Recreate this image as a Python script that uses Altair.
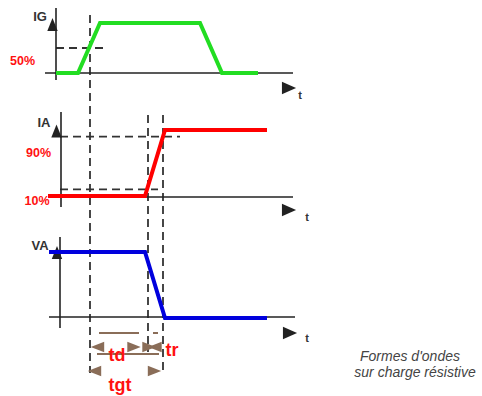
import altair as alt
import pandas as pd

W, H = 482, 396

# ---- waveforms: time points and normalised levels (0 = off, 1 = full) ----
ig_time = [56, 78, 100, 200, 222, 258]
ig_level = [0, 0, 1, 1, 0, 0]
ia_time = [48, 145, 165, 267]
ia_level = [0, 0, 1, 1]
va_time = [49, 145, 165, 267]
va_level = [1, 1, 0, 0]

# panel baselines and amplitudes on the drawing
panel_base = {"IG": 73, "IA": 196, "VA": 318}
panel_amp = {"IG": 50, "IA": 66, "VA": 66}

# instants marked by the dashed verticals: gate 50 %, anode 10 %, anode 90 %
t_gate50 = 90
t_ia10 = 148
t_ia90 = 163

# arrowhead outlines (unit square, scaled by the mark size)
ARROW_UP = "M0,-1 L0.8,1 L-0.8,1 Z"
ARROW_RIGHT = "M-1,-0.9 L1,0 L-1,0.9 Z"
ARROW_LEFT = "M1,-0.8 L-1,0 L1,0.8 Z"
ARROW_RIGHT_S = "M-1,-0.8 L1,0 L-1,0.8 Z"


def level_y(panel, v):
    return panel_base[panel] - v * panel_amp[panel]


def wave_df(panel, times, levels):
    return pd.DataFrame({
        "x": times,
        "y": [level_y(panel, v) for v in levels],
        "i": list(range(len(times))),
    })


X = alt.Scale(domain=[0, W], nice=False, zero=False)
Y = alt.Scale(domain=[0, H], nice=False, zero=False, reverse=True)


def xe(f="x"):
    return alt.X(f"{f}:Q", scale=X, axis=None)


def ye(f="y"):
    return alt.Y(f"{f}:Q", scale=Y, axis=None)


def segs(rows, **mark):
    df = pd.DataFrame(rows, columns=["x", "y", "x2", "y2"])
    return alt.Chart(df).mark_rule(**mark).encode(
        x=xe(), y=ye(), x2="x2:Q", y2="y2:Q")


def wave(panel, times, levels, color):
    return alt.Chart(wave_df(panel, times, levels)).mark_line(
        color=color, strokeWidth=4, strokeCap="butt", strokeJoin="miter"
    ).encode(x=xe(), y=ye(), order="i:Q")


def tri(rows, shape, size, color):
    df = pd.DataFrame(rows, columns=["x", "y"])
    return alt.Chart(df).mark_point(
        shape=shape, filled=True, size=size, color=color, opacity=1, strokeWidth=0
    ).encode(x=xe(), y=ye())


def text(rows, color, size, bold=True, italic=False, font="Liberation Sans"):
    df = pd.DataFrame(rows, columns=["x", "y", "label"])
    kw = dict(color=color, fontSize=size, font=font, align="center",
              baseline="middle")
    if bold:
        kw["fontWeight"] = "bold"
    if italic:
        kw["fontStyle"] = "italic"
    return alt.Chart(df).mark_text(**kw).encode(x=xe(), y=ye(), text="label:N")


AX = "#222222"
DASH = "#333333"
BROWN = "#8a6d58"
RED = "#ff1111"

# axes of the three panels
axes = segs([
    (56, 8, 56, 80), (45, 73, 293, 73),
    (61, 112, 61, 207), (48, 197, 293, 197),
    (60, 237, 60, 328), (49, 317, 295, 317),
], color=AX, strokeWidth=1.6)

# dashed reference lines
dashed = segs([
    (t_gate50, 15, t_gate50, 373),
    (t_ia10, 115, t_ia10, 352),
    (t_ia90, 115, t_ia90, 373),
    (56, level_y("IG", 0.5), 103, level_y("IG", 0.5)),
    (60, level_y("IA", 0.9), 180, level_y("IA", 0.9)),
    (60, level_y("IA", 0.1), 158, level_y("IA", 0.1)),
], color=DASH, strokeWidth=1.8, strokeDash=[8, 5])

up_arrows = tri([(52.5, 24.5), (56.5, 131), (57, 252.5)], ARROW_UP, 170, AX)
t_arrows = tri([(289, 88), (289, 210), (290, 333)], ARROW_RIGHT, 200, AX)

# td / tr / tgt dimension marks
dim_lines = segs([
    (99, 333, 139, 333), (153, 333, 158, 333), (97, 354, 159, 354),
], color=BROWN, strokeWidth=2)
dim_left = tri([(97.5, 347), (155, 347), (94.5, 371)], ARROW_LEFT, 180, BROWN)
dim_right = tri([(134, 347), (149, 347), (154.5, 371)], ARROW_RIGHT_S, 180, BROWN)

names = text([(40, 17, "IG"), (44, 123, "IA"), (40, 246, "VA")], "#333333", 13)
t_labels = text([(300, 96, "t"), (307, 218, "t"), (307, 339, "t")], "#333333", 11)
pct = text([(22.5, 61, "50%"), (38.5, 153, "90%"), (37, 201, "10%")], RED, 12.5)
times_lbl = text([(117, 356, "td"), (172, 351, "tr"), (120, 386, "tgt")], RED, 18)
caption = text([(410, 357, "Formes d'ondes"), (415, 373, "sur charge  résistive")],
               "#444444", 14, bold=False, italic=True)

chart = alt.layer(
    dashed, axes, up_arrows, t_arrows,
    wave("IG", ig_time, ig_level, "#22dd22"),
    wave("IA", ia_time, ia_level, "#ff0000"),
    wave("VA", va_time, va_level, "#0000dd"),
    dim_lines, dim_left, dim_right,
    names, t_labels, pct, times_lbl, caption,
).properties(
    width=W, height=H, padding=0, autosize="none",
    background="white",
).configure_view(stroke=None)

chart.save("out.html", embed_options={"renderer": "svg", "actions": False})
